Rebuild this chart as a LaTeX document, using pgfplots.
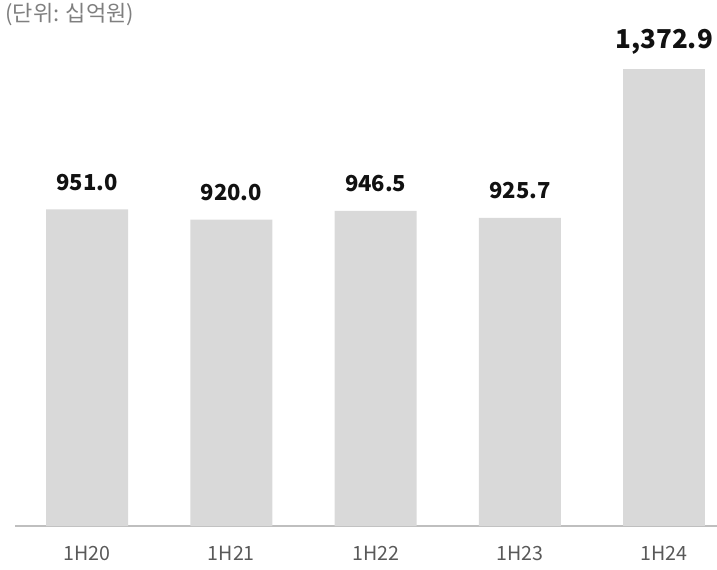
\documentclass[border=0pt]{standalone}
\usepackage{pgfplots}
\pgfplotsset{compat=1.18}
\usepackage{fontspec}
\setmainfont{Noto Sans CJK KR}
\definecolor{barc}{HTML}{D9D9D9}
\definecolor{axc}{HTML}{BFBFBF}
\definecolor{tickc}{HTML}{595959}
\definecolor{unitc}{HTML}{7F7F7F}
\definecolor{lblc}{HTML}{111111}
\begin{document}
\begin{tikzpicture}
\begin{axis}[
  scale only axis,
  width=351pt, height=263pt,
  xmin=-0.5, xmax=4.366,
  ymin=0, ymax=1580,
  axis y line=none,
  axis x line*=bottom,
  axis line style={draw=axc, line width=1pt},
  x axis line style={-},
  xtick={0,1,2,3,4},
  xticklabels={1H20,1H21,1H22,1H23,1H24},
  major tick length=0pt,
  xticklabel style={font=\fontsize{9.8}{11}\selectfont, text=tickc, yshift=-6.5pt},
  /pgf/number format/assume math mode=true,
  ybar, bar width=41pt, bar shift=0pt,
  nodes near coords,
  point meta=explicit symbolic,
  clip=false,
]
\addplot[fill=barc, draw=none,
  every node near coord/.append style={font=\fontsize{11}{12}\selectfont\bfseries, text=lblc, anchor=base, yshift=9.5pt}]
  table[x=x, y=y, meta=lab] {
x y lab
0 951.0 951.0
1 920.0 920.0
2 946.5 946.5
3 925.7 925.7
};
\addplot[fill=barc, draw=none,
  every node near coord/.append style={font=\fontsize{13}{14}\selectfont\bfseries, text=lblc, anchor=base, yshift=10pt}]
  table[x=x, y=y, meta=lab] {
x y lab
4 1372.9 1,372.9
};
\node[anchor=north west, inner sep=0pt, text=unitc, font=\fontsize{11}{12}\selectfont]
  at ([xshift=-5pt,yshift=-1.5pt]rel axis cs:0,1) {(단위: 십억원)};
\end{axis}
\pgfresetboundingbox
\path[use as bounding box] ([xshift=-7.5pt,yshift=-21.5pt]current axis.south west) rectangle (current axis.north east);
\end{tikzpicture}
\end{document}
